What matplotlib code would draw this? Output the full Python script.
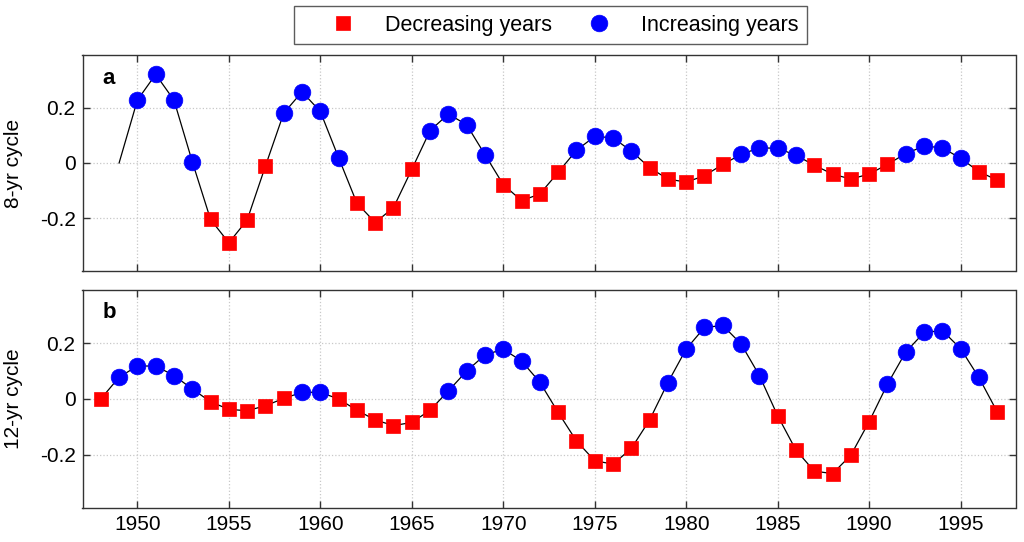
import matplotlib
matplotlib.use("Agg")
import matplotlib.pyplot as plt
import numpy as np

plt.rcParams['font.family'] = ['Liberation Sans', 'DejaVu Sans']

# Panel a: 8-yr cycle (1949 starts the line, no marker)
years_a = list(range(1949, 1998))
vals_a = [0.0,
          0.227, 0.32, 0.227, 0.005, -0.204, -0.288, -0.206, -0.011, 0.18, 0.257,
          0.186, 0.019, -0.145, -0.215, -0.161, -0.023, 0.117, 0.177, 0.138, 0.03,
          -0.078, -0.136, -0.112, -0.034, 0.046, 0.096, 0.091, 0.043, -0.017, -0.058,
          -0.069, -0.046, -0.005, 0.031, 0.055, 0.053, 0.028, -0.008, -0.04, -0.058,
          -0.04, -0.005, 0.034, 0.061, 0.055, 0.017, -0.031, -0.062]
# 'D' = decreasing, 'I' = increasing, '' = no marker
cls_a = ['',
         'I', 'I', 'I', 'I', 'D', 'D', 'D', 'D', 'I', 'I',
         'I', 'I', 'D', 'D', 'D', 'D', 'I', 'I', 'I', 'I',
         'D', 'D', 'D', 'D', 'I', 'I', 'I', 'I', 'D', 'D',
         'D', 'D', 'D', 'I', 'I', 'I', 'I', 'D', 'D', 'D',
         'D', 'D', 'I', 'I', 'I', 'I', 'D', 'D']

# Panel b: 12-yr cycle
years_b = list(range(1948, 1998))
vals_b = [0.0, 0.078, 0.118, 0.118, 0.084, 0.036, -0.01, -0.037, -0.042, -0.024,
          0.002, 0.024, 0.024, 0.0, -0.04, -0.075, -0.095, -0.084, -0.04, 0.029,
          0.1, 0.158, 0.178, 0.136, 0.06, -0.048, -0.15, -0.221, -0.233, -0.177,
          -0.075, 0.059, 0.179, 0.256, 0.263, 0.197, 0.084, -0.06, -0.183, -0.258,
          -0.267, -0.201, -0.081, 0.053, 0.168, 0.238, 0.245, 0.18, 0.077, -0.046]
cls_b = ['D', 'I', 'I', 'I', 'I', 'I', 'D', 'D', 'D', 'D',
         'D', 'I', 'I', 'D', 'D', 'D', 'D', 'D', 'D', 'I',
         'I', 'I', 'I', 'I', 'I', 'D', 'D', 'D', 'D', 'D',
         'D', 'I', 'I', 'I', 'I', 'I', 'I', 'D', 'D', 'D',
         'D', 'D', 'D', 'I', 'I', 'I', 'I', 'I', 'I', 'D']

panel_labels = ['a', 'b']
ylabels = ['8-yr cycle', '12-yr cycle']
xticks = list(range(1950, 2000, 5))
yticks = [-0.2, 0, 0.2]
ytick_labels = ['-0.2', '0', '0.2']
legend_labels = ['Decreasing years', 'Increasing years']

fig = plt.figure(figsize=(10.24, 5.42), dpi=100)
ax_a = fig.add_axes([82.5/1024, 1 - 271/542, 933/1024, 216/542])
ax_b = fig.add_axes([82.5/1024, 1 - 508/542, 933/1024, 218/542])

handles = None
for ax, yrs, vals, cls, lab, ylab, ly in [(ax_a, years_a, vals_a, cls_a, panel_labels[0], ylabels[0], 0.889),
                                          (ax_b, years_b, vals_b, cls_b, panel_labels[1], ylabels[1], 0.895)]:
    yrs = np.array(yrs); vals = np.array(vals); cls = np.array(cls)
    ax.plot(yrs, vals, color='black', lw=0.9, zorder=2)
    d = cls == 'D'
    i = cls == 'I'
    hd, = ax.plot(yrs[d], vals[d], 's', color='#ff0000', mec='#ff0000', mew=0.5, ms=10, ls='none', zorder=3)
    hi, = ax.plot(yrs[i], vals[i], 'o', color='#0000ff', mec='#0000ff', mew=0.5, ms=12, ls='none', zorder=3)
    handles = [hd, hi]
    ax.set_xlim(1947, 1998)
    ax.set_ylim(-0.39, 0.39)
    ax.set_xticks(xticks)
    ax.set_yticks(yticks)
    ax.set_yticklabels(ytick_labels)
    ax.grid(True, color='#c8c8c8', linestyle=':', linewidth=0.9)
    ax.set_axisbelow(True)
    ax.tick_params(direction='in', top=True, right=True, length=5, width=1, labelsize=15,
                   color='#333333', pad=5)
    for sp in ax.spines.values():
        sp.set_color('#333333')
        sp.set_linewidth(1.0)
    ax.set_ylabel(ylab, fontsize=15)
    ax.yaxis.set_label_coords(-0.0635, 0.5)
    ax.text(0.021, ly, lab, transform=ax.transAxes, fontsize=16, fontweight='bold',
            va='center', ha='left')

ax_a.tick_params(labelbottom=False)

leg = fig.legend(handles, legend_labels, loc='center', bbox_to_anchor=(550.5/1024, 1 - 25/542),
                 ncol=2, fontsize=15.5, frameon=True, fancybox=False, edgecolor='#333333',
                 handletextpad=0.08, columnspacing=0.3, borderpad=0.4, handlelength=3.76)
leg.get_frame().set_linewidth(1.0)

fig.savefig('out.png', dpi=100)
